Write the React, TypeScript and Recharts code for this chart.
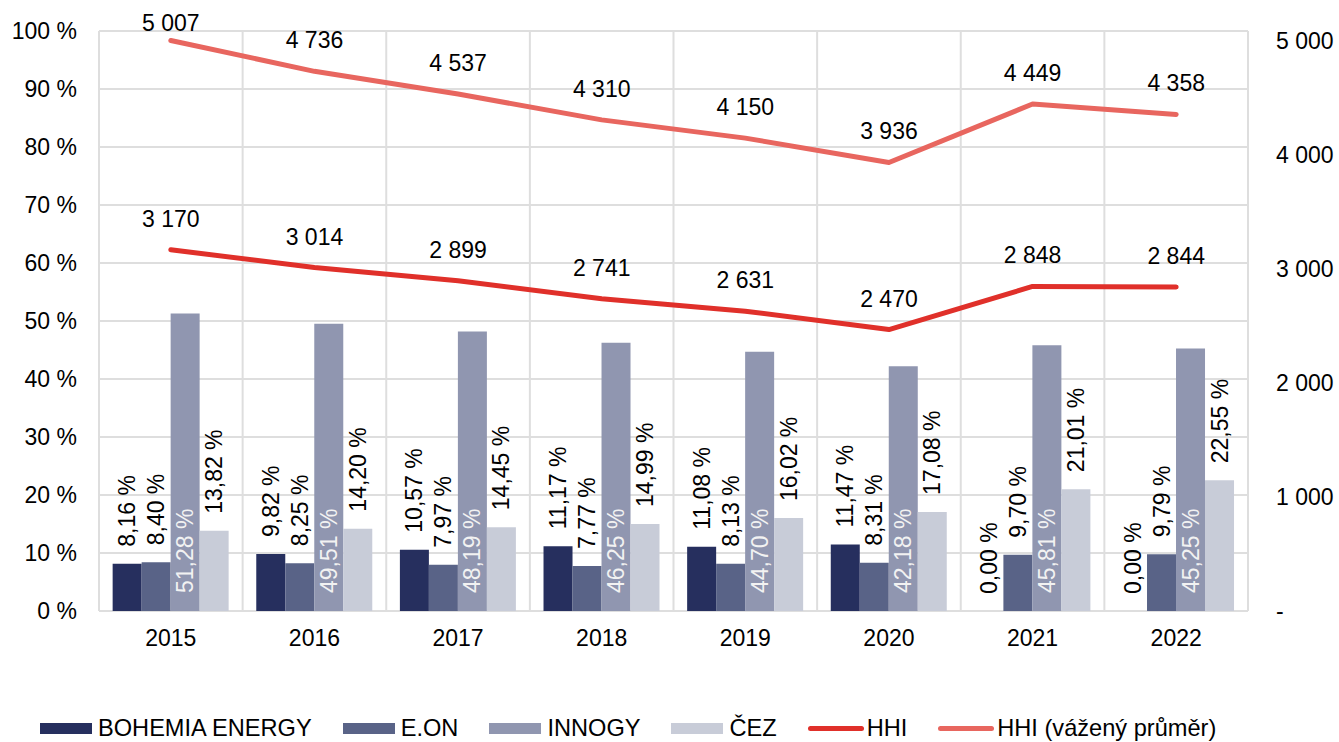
import React from 'react';
import {
  ComposedChart,
  Bar,
  Line,
  XAxis,
  YAxis,
  CartesianGrid,
  Legend,
} from 'recharts';

const years = ['2015', '2016', '2017', '2018', '2019', '2020', '2021', '2022'];
const bohemia = [8.16, 9.82, 10.57, 11.17, 11.08, 11.47, 0.0, 0.0];
const eon = [8.4, 8.25, 7.97, 7.77, 8.13, 8.31, 9.7, 9.79];
const innogy = [51.28, 49.51, 48.19, 46.25, 44.7, 42.18, 45.81, 45.25];
const cez = [13.82, 14.2, 14.45, 14.99, 16.02, 17.08, 21.01, 22.55];
const hhi = [3170, 3014, 2899, 2741, 2631, 2470, 2848, 2844];
const hhiWeighted = [5007, 4736, 4537, 4310, 4150, 3936, 4449, 4358];

const leftTicks = [0, 10, 20, 30, 40, 50, 60, 70, 80, 90, 100];
const rightTicks = [0, 1000, 2000, 3000, 4000, 5000];

const COLORS = {
  bohemia: '#262f5e',
  eon: '#596387',
  innogy: '#9096b0',
  cez: '#c8ccd8',
  hhi: '#e0302a',
  hhiW: '#e8665f',
};

const FONT = '"Liberation Sans", Arial, sans-serif';
const FS = 23;

const data = years.map((y, i) => ({
  year: y,
  bohemia: bohemia[i],
  eon: eon[i],
  innogy: innogy[i],
  cez: cez[i],
  hhi: hhi[i],
  hhiW: hhiWeighted[i],
}));

const fmtPct = (v: number) => v.toFixed(2).replace('.', ',') + ' %';
const fmtNum = (v: number) => {
  if (v === 0) return '-';
  if (v >= 1000) {
    const th = Math.floor(v / 1000);
    const rest = String(v % 1000).padStart(3, '0');
    return `${th} ${rest}`;
  }
  return String(v);
};

const vText = (cx: number, ty: number, txt: string, fill: string, key?: string) => (
  <text
    key={key}
    x={cx}
    y={ty}
    transform={`rotate(-90 ${cx} ${ty})`}
    textAnchor="start"
    dominantBaseline="central"
    fill={fill}
    fontSize={FS}
    fontFamily={FONT}
  >
    {txt}
  </text>
);

const outsideLabel = (props: any) => {
  const { x, y, width, value } = props;
  const cx = Number(x) + Number(width) / 2;
  return vText(cx, Number(y) - 17, fmtPct(Number(value)), '#000');
};

// E.ON label; also draws the BOHEMIA label when its bar has zero height
// (zero-height bars get no label of their own).
const eonLabel = (props: any) => {
  const { x, y, width, height, value, index } = props;
  const cx = Number(x) + Number(width) / 2;
  const base = Number(y) + Number(height);
  const b = bohemia[index];
  return (
    <g>
      {vText(cx, Number(y) - 17, fmtPct(Number(value)), '#000', 'e')}
      {b === 0 ? vText(cx - Number(width), base - 17, fmtPct(b), '#000', 'b') : null}
    </g>
  );
};

const insideLabel = (props: any) => {
  const { x, y, width, height, value } = props;
  const cx = Number(x) + Number(width) / 2;
  return vText(cx, Number(y) + Number(height) - 18, fmtPct(Number(value)), '#f2f2f2');
};

const lineLabel = (props: any) => {
  const { x, y, value } = props;
  const ty = Math.max(Number(y) - 31, 23);
  return (
    <text
      x={Number(x)}
      y={ty}
      textAnchor="middle"
      dominantBaseline="central"
      fill="#000"
      fontSize={FS}
      fontFamily={FONT}
    >
      {fmtNum(Number(value))}
    </text>
  );
};

const legendItems = [
  { label: 'BOHEMIA ENERGY', color: COLORS.bohemia, type: 'rect' },
  { label: 'E.ON', color: COLORS.eon, type: 'rect' },
  { label: 'INNOGY', color: COLORS.innogy, type: 'rect' },
  { label: 'ČEZ', color: COLORS.cez, type: 'rect' },
  { label: 'HHI', color: COLORS.hhi, type: 'line' },
  { label: 'HHI (vážený průměr)', color: COLORS.hhiW, type: 'line' },
];

const renderLegend = () => (
  <div
    style={{
      display: 'flex',
      alignItems: 'center',
      height: 28,
      paddingLeft: 40,
      fontFamily: FONT,
      fontSize: 23.6,
      color: '#000',
      whiteSpace: 'nowrap',
    }}
  >
    {legendItems.map((it) => (
      <div key={it.label} style={{ display: 'flex', alignItems: 'center', marginRight: 31 }}>
        {it.type === 'rect' ? (
          <div style={{ width: 52, height: 11, background: it.color, marginRight: 6 }} />
        ) : (
          <div
            style={{ width: 56, height: 5, borderRadius: 3, background: it.color, marginRight: 3 }}
          />
        )}
        <span>{it.label}</span>
      </div>
    ))}
  </div>
);

export default function App() {
  return (
    <div style={{ position: 'absolute', left: 0, top: 0, width: 1339, height: 742, background: '#fff' }}>
      <ComposedChart
        width={1339}
        height={742}
        data={data}
        margin={{ top: 31, right: 0, bottom: 0, left: 0 }}
        barCategoryGap="9.5%"
        barGap={0}
      >
        <CartesianGrid
          yAxisId="left"
          stroke="#dedede"
          strokeWidth={2}
          verticalCoordinatesGenerator={(p: any) => {
            const off = p.offset;
            return Array.from({ length: 9 }, (_, i) => off.left + (i * off.width) / 8);
          }}
        />
        <XAxis
          dataKey="year"
          tickLine={false}
          axisLine={false}
          tickSize={0}
          tickMargin={19}
          height={103}
          tick={{ fill: '#000', fontSize: FS, fontFamily: FONT }}
          interval={0}
        />
        <YAxis
          yAxisId="left"
          orientation="left"
          domain={[0, 100]}
          ticks={leftTicks}
          width={99}
          tickLine={false}
          axisLine={false}
          tickSize={0}
          tickMargin={22}
          tickFormatter={(v: number) => `${v} %`}
          tick={{ fill: '#000', fontSize: FS, fontFamily: FONT }}
          interval={0}
        />
        <YAxis
          yAxisId="right"
          orientation="right"
          domain={[0, 5090]}
          ticks={rightTicks}
          width={91}
          tickLine={false}
          axisLine={false}
          tickSize={0}
          tickMargin={28}
          tickFormatter={(v: number) => fmtNum(v)}
          tick={{ fill: '#000', fontSize: FS, fontFamily: FONT, textAnchor: 'start' }}
          interval={0}
        />
        <Legend verticalAlign="bottom" align="left" height={28} content={renderLegend} />
        <Bar yAxisId="left" dataKey="bohemia" name="BOHEMIA ENERGY" fill={COLORS.bohemia} isAnimationActive={false} label={outsideLabel} />
        <Bar yAxisId="left" dataKey="eon" name="E.ON" fill={COLORS.eon} isAnimationActive={false} label={eonLabel} />
        <Bar yAxisId="left" dataKey="innogy" name="INNOGY" fill={COLORS.innogy} isAnimationActive={false} label={insideLabel} />
        <Bar yAxisId="left" dataKey="cez" name="ČEZ" fill={COLORS.cez} isAnimationActive={false} label={outsideLabel} />
        <Line
          yAxisId="right"
          dataKey="hhi"
          name="HHI"
          stroke={COLORS.hhi}
          strokeWidth={5}
          strokeLinecap="round"
          strokeLinejoin="round"
          dot={false}
          activeDot={false}
          isAnimationActive={false}
          label={lineLabel}
        />
        <Line
          yAxisId="right"
          dataKey="hhiW"
          name="HHI (vážený průměr)"
          stroke={COLORS.hhiW}
          strokeWidth={5}
          strokeLinecap="round"
          strokeLinejoin="round"
          dot={false}
          activeDot={false}
          isAnimationActive={false}
          label={lineLabel}
        />
      </ComposedChart>
    </div>
  );
}
